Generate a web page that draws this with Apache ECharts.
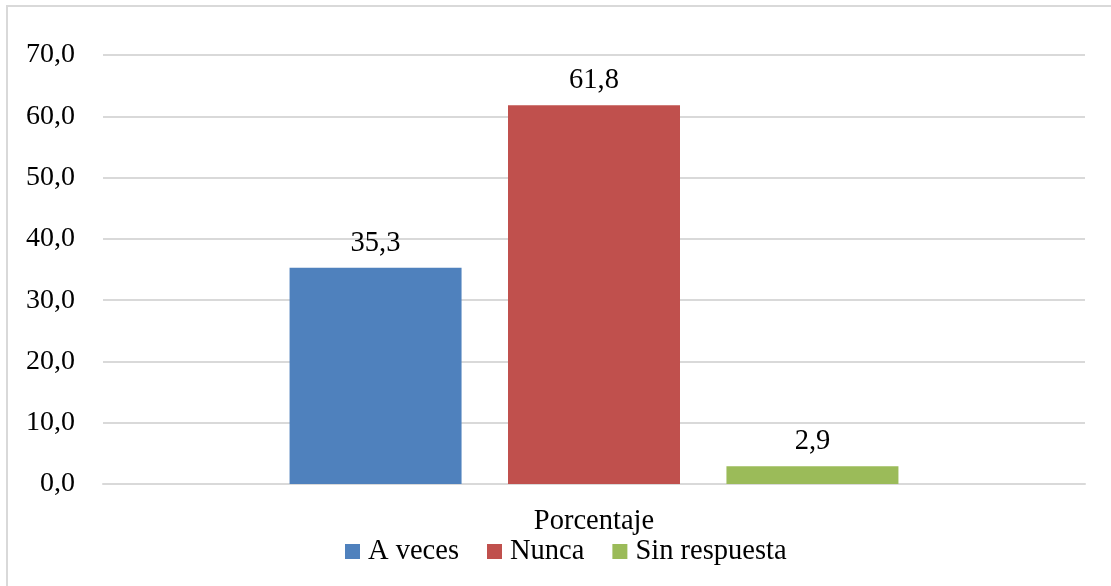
<!DOCTYPE html>
<html>
<head>
<meta charset="utf-8">
<script src="https://cdn.jsdelivr.net/npm/echarts@6/dist/echarts.min.js"></script>
<style>html,body{margin:0;padding:0;background:#fff}#c{width:1111px;height:586px}</style>
</head>
<body>
<div id="c"></div>
<script>
var categories = ['Porcentaje'];
var seriesNames = ['A veces', 'Nunca', 'Sin respuesta'];
var aVeces = [35.3];
var nunca = [61.8];
var sinRespuesta = [2.9];
var yTicks = {min: 0, max: 70, interval: 10};
var colors = ['#4f81bd', '#c0504d', '#9bbb59'];
var font = '"Liberation Serif", "Times New Roman", serif';
var fs = 28.5;
var fmt = function (v) { return Number(v).toFixed(1).replace('.', ','); };

var chart = echarts.init(document.getElementById('c'));
var values = [aVeces, nunca, sinRespuesta];
chart.setOption({
  animation: false,
  textStyle: {fontFamily: font},
  graphic: [{type: 'rect', shape: {x: 7, y: 6, width: 1120, height: 600}, style: {fill: 'none', stroke: '#d9d9d9', lineWidth: 2}, silent: true}],
  grid: {left: 103, right: 26, top: 55, bottom: 102},
  legend: {
    bottom: 15, left: 340, itemWidth: 15, itemHeight: 15, itemGap: 28,
    icon: 'rect',
    textStyle: {fontFamily: font, fontSize: fs, color: '#000', padding: [0, 0, 0, 3]},
    data: seriesNames
  },
  xAxis: {
    type: 'category', data: categories,
    axisLine: {lineStyle: {color: '#d9d9d9', width: 2}},
    axisTick: {show: false},
    axisLabel: {fontFamily: font, fontSize: fs, color: '#000', margin: 23}
  },
  yAxis: {
    type: 'value', min: yTicks.min, max: yTicks.max, interval: yTicks.interval,
    axisLine: {show: false}, axisTick: {show: false},
    splitLine: {lineStyle: {color: '#d9d9d9', width: 2}},
    axisLabel: {fontFamily: font, fontSize: 28, color: '#000', margin: 28, formatter: fmt}
  },
  series: seriesNames.map(function (n, i) {
    return {
      name: n, type: 'bar', data: values[i], barWidth: 172, barGap: '27%',
      itemStyle: {color: colors[i]},
      label: {show: true, position: 'top', distance: 10, fontFamily: font, fontSize: fs, color: '#000', formatter: function (p) { return fmt(p.value); }}
    };
  })
});
</script>
</body>
</html>
